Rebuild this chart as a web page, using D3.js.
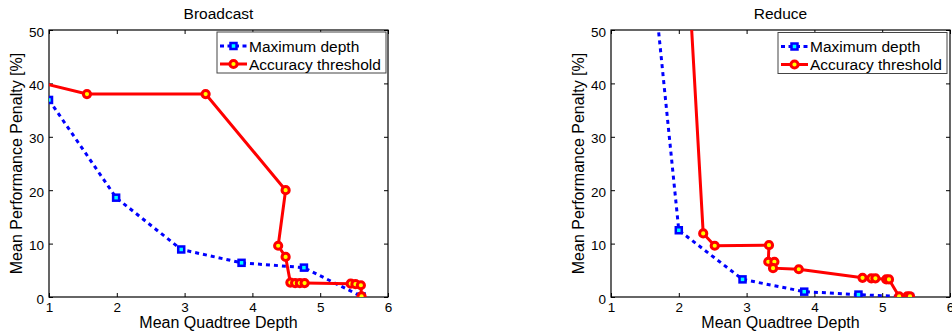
<!DOCTYPE html>
<html>
<head>
<meta charset="utf-8">
<script src="https://cdn.jsdelivr.net/npm/d3@7"></script>
<style>
  body { margin: 0; background: #fff; }
  text { font-family: "Liberation Sans", Arial, sans-serif; fill: #000; }
</style>
</head>
<body>
<svg id="chart" width="952" height="332"></svg>
<script>
// x ticks / y ticks shared by both panels
const xTicks = [1, 2, 3, 4, 5, 6];
const yTicks = [0, 10, 20, 30, 40, 50];
const seriesNames = ["Maximum depth", "Accuracy threshold"];

// Broadcast panel
const broadcastDepth = [
  { x: 1.0, y: 36.9 }, { x: 1.99, y: 18.6 }, { x: 2.95, y: 8.9 },
  { x: 3.84, y: 6.4 }, { x: 4.76, y: 5.5 }, { x: 5.61, y: 0.1 }
];
const broadcastAccuracy = [
  { x: 0.6, y: 41.0 }, { x: 1.56, y: 38.0 }, { x: 3.31, y: 38.0 },
  { x: 4.49, y: 20.0 }, { x: 4.38, y: 9.6 }, { x: 4.49, y: 7.5 },
  { x: 4.56, y: 2.7 }, { x: 4.63, y: 2.6 }, { x: 4.70, y: 2.6 },
  { x: 4.77, y: 2.6 }, { x: 5.45, y: 2.5 }, { x: 5.52, y: 2.4 },
  { x: 5.60, y: 2.2 }, { x: 5.61, y: 0.1 }
];

// Reduce panel
const reduceDepth = [
  { x: 1.0, y: 137.5 }, { x: 2.0, y: 12.5 }, { x: 2.94, y: 3.3 },
  { x: 3.85, y: 1.0 }, { x: 4.65, y: 0.45 }, { x: 5.41, y: 0.0 }
];
const reduceAccuracy = [
  { x: 2.0, y: 92.6 }, { x: 2.36, y: 11.9 }, { x: 2.53, y: 9.6 },
  { x: 3.33, y: 9.7 }, { x: 3.32, y: 6.6 }, { x: 3.41, y: 6.6 },
  { x: 3.39, y: 5.4 }, { x: 3.77, y: 5.2 }, { x: 4.71, y: 3.6 },
  { x: 4.84, y: 3.5 }, { x: 4.90, y: 3.5 }, { x: 5.06, y: 3.3 },
  { x: 5.10, y: 3.3 }, { x: 5.25, y: 0.1 }, { x: 5.37, y: 0.1 },
  { x: 5.41, y: 0.1 }
];

const svg = d3.select("#chart");

function drawPanel(opts) {
  const { left, right, top, bottom, title, depth, accuracy, legend, id } = opts;
  const x = d3.scaleLinear().domain([1, 6]).range([left, right]);
  const y = d3.scaleLinear().domain([0, 50]).range([bottom, top]);
  const g = svg.append("g");

  g.append("clipPath").attr("id", id)
    .append("rect")
    .attr("x", left).attr("y", top)
    .attr("width", right - left).attr("height", bottom - top);

  // ticks inward on all four sides
  const tl = 4;
  g.append("g").attr("transform", `translate(0,${bottom})`)
    .call(d3.axisBottom(x).tickValues(xTicks).tickSize(-tl).tickPadding(5).tickFormat(d3.format("d")))
    .call(a => a.select(".domain").remove());
  g.append("g").attr("transform", `translate(0,${top})`)
    .call(d3.axisTop(x).tickValues(xTicks).tickSize(-tl).tickFormat(""))
    .call(a => a.select(".domain").remove());
  g.append("g").attr("class", "yax").attr("transform", `translate(${left},0)`)
    .call(d3.axisLeft(y).tickValues(yTicks).tickSize(-tl).tickPadding(5))
    .call(a => a.select(".domain").remove());
  g.append("g").attr("transform", `translate(${right},0)`)
    .call(d3.axisRight(y).tickValues(yTicks).tickSize(-tl).tickFormat(""))
    .call(a => a.select(".domain").remove());
  g.selectAll(".tick line").attr("stroke", "#000");
  g.selectAll(".tick text").style("font-size", "13.5px").attr("fill", "#000")
    .style("font-family", '"Liberation Sans", Arial, sans-serif');
  g.selectAll(".yax .tick text").attr("dy", "0.45em");

  g.append("rect")
    .attr("x", left).attr("y", top)
    .attr("width", right - left).attr("height", bottom - top)
    .attr("fill", "none").attr("stroke", "#000").attr("stroke-width", 1.2);

  const line = d3.line().x(d => x(d.x)).y(d => y(d.y));
  const plot = g.append("g").attr("clip-path", `url(#${id})`);

  plot.append("path").datum(depth)
    .attr("d", line).attr("fill", "none")
    .attr("stroke", "#0000ff").attr("stroke-width", 3)
    .attr("stroke-dasharray", "4,4");
  plot.selectAll(".sq").data(depth).enter().append("rect")
    .attr("x", d => x(d.x) - 3).attr("y", d => y(d.y) - 3)
    .attr("width", 6).attr("height", 6)
    .attr("fill", "#00ffff").attr("stroke", "#0000ff").attr("stroke-width", 2.5);

  plot.append("path").datum(accuracy)
    .attr("d", line).attr("fill", "none")
    .attr("stroke", "#ff0000").attr("stroke-width", 3);
  plot.selectAll(".ci").data(accuracy).enter().append("circle")
    .attr("cx", d => x(d.x)).attr("cy", d => y(d.y)).attr("r", 3.6)
    .attr("fill", "#ffff00").attr("stroke", "#ff0000").attr("stroke-width", 3);

  // title and axis labels
  g.append("text").attr("x", (left + right) / 2).attr("y", 19)
    .attr("text-anchor", "middle").style("font-size", "15.5px").text(title);
  g.append("text").attr("x", (left + right) / 2).attr("y", 328)
    .attr("text-anchor", "middle").style("font-size", "16px").text("Mean Quadtree Depth");
  g.append("text")
    .attr("transform", `translate(${left - 27},${(top + bottom) / 2}) rotate(-90)`)
    .attr("text-anchor", "middle").style("font-size", "16px")
    .text("Mean Performance Penalty [%]");

  // legend
  const lg = g.append("g");
  lg.append("rect")
    .attr("x", legend.x).attr("y", legend.y)
    .attr("width", legend.w).attr("height", legend.h)
    .attr("fill", "#fff").attr("stroke", "#444").attr("stroke-width", 1);
  const rows = [legend.y + 14, legend.y + 32];
  const lx0 = legend.x + 3, lx1 = legend.x + 30, lxm = (lx0 + lx1) / 2;
  lg.append("line").attr("x1", lx0).attr("x2", lx1).attr("y1", rows[0]).attr("y2", rows[0])
    .attr("stroke", "#0000ff").attr("stroke-width", 3).attr("stroke-dasharray", "4,3.5");
  lg.append("rect").attr("x", lxm - 3).attr("y", rows[0] - 3).attr("width", 6).attr("height", 6)
    .attr("fill", "#00ffff").attr("stroke", "#0000ff").attr("stroke-width", 2.5);
  lg.append("line").attr("x1", lx0).attr("x2", lx1).attr("y1", rows[1]).attr("y2", rows[1])
    .attr("stroke", "#ff0000").attr("stroke-width", 3);
  lg.append("circle").attr("cx", lxm).attr("cy", rows[1]).attr("r", 3.6)
    .attr("fill", "#ffff00").attr("stroke", "#ff0000").attr("stroke-width", 3);
  seriesNames.forEach((s, i) => {
    lg.append("text").attr("x", lx1 + 2).attr("y", rows[i] + 5.5)
      .style("font-size", "15.5px").text(s);
  });
}

drawPanel({
  id: "clipB", left: 49, right: 388, top: 30, bottom: 297,
  title: "Broadcast", depth: broadcastDepth, accuracy: broadcastAccuracy,
  legend: { x: 217, y: 32, w: 169, h: 41 }
});
drawPanel({
  id: "clipR", left: 611, right: 950, top: 30, bottom: 297,
  title: "Reduce", depth: reduceDepth, accuracy: reduceAccuracy,
  legend: { x: 778, y: 32.5, w: 169, h: 41 }
});
</script>
</body>
</html>
